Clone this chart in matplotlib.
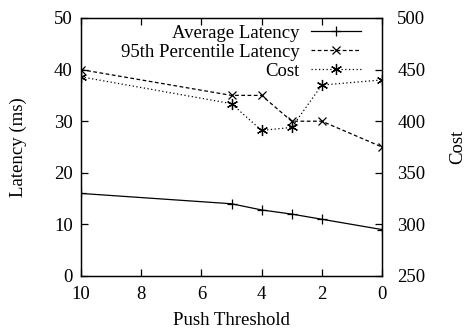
import matplotlib
matplotlib.use('Agg')
import matplotlib.pyplot as plt
from matplotlib.lines import Line2D

plt.rcParams['font.family'] = ['Liberation Serif', 'DejaVu Serif']
plt.rcParams['font.size'] = 13.5

# データ
threshold = [10, 5, 4, 3, 2, 0]
avg_latency = [16, 14, 12.8, 12, 11, 9]
p95_latency = [40, 35, 35, 30, 30, 25]
cost = [443, 417, 391, 394, 435, 440]

W, H = 467, 330
fig = plt.figure(figsize=(W / 100, H / 100), dpi=100)
ax = fig.add_axes([81 / W, 1 - 276 / H, 301 / W, 258 / H])
ax2 = ax.twinx()

lw = 0.9
avg_style = dict(color='black', linestyle='-', linewidth=lw,
                 marker='+', markersize=7, markeredgewidth=lw)
p95_style = dict(color='black', linestyle=(0, (3, 2)), linewidth=lw,
                 marker='x', markersize=6, markeredgewidth=lw)
cost_style = dict(color='black', linestyle=(0, (1, 2)), linewidth=lw,
                  marker=(6, 2, 0), markersize=8, markeredgewidth=lw)

ax.plot(threshold, avg_latency, **avg_style)
ax.plot(threshold, p95_latency, **p95_style)
ax2.plot(threshold, cost, **cost_style)

ax.set_xlim(10, 0)
ax.set_ylim(0, 50)
ax2.set_ylim(250, 500)
ax.set_xticks([10, 8, 6, 4, 2, 0])
ax.set_yticks(range(0, 51, 10))
ax2.set_yticks(range(250, 501, 50))

for a in (ax, ax2):
    for s in a.spines.values():
        s.set_linewidth(lw)
ax.tick_params(direction='in', top=True, length=5, width=lw)
ax.tick_params(axis='y', pad=6)
ax.tick_params(axis='x', pad=7)
ax2.tick_params(direction='in', length=5, width=lw, pad=11)

ax.set_xlabel('Push Threshold')
ax.xaxis.set_label_coords(0.5, -0.14)
ax.set_ylabel('Latency (ms)')
ax.yaxis.set_label_coords(-0.18, 0.5)
ax2.set_ylabel('Cost')
ax2.yaxis.set_label_coords(1.222, 0.5)

handles = [Line2D([], [], **avg_style), Line2D([], [], **p95_style),
           Line2D([], [], **cost_style)]
labels = ['Average Latency', '95th Percentile Latency', 'Cost']
ax.legend(handles, labels, loc='upper right', bbox_to_anchor=(286 / 301, 0.995),
          frameon=False, markerfirst=False, handlelength=2.7, handletextpad=0.6,
          labelspacing=0.1, borderaxespad=0.0, borderpad=0.3)

fig.savefig('out.png', dpi=100)
